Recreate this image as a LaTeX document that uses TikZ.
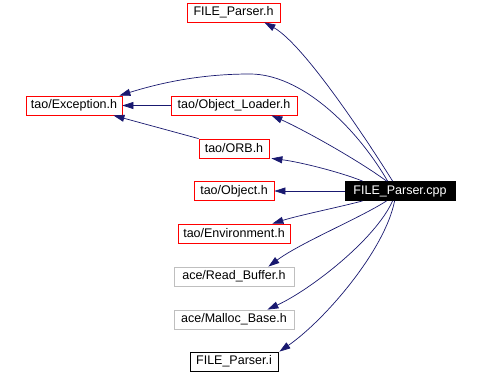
\documentclass[tikz,border=0pt]{standalone}
\usepackage{fontspec}
\setmainfont{Liberation Sans}
\usetikzlibrary{arrows.meta,calc}
\definecolor{edgeblue}{RGB}{25,25,112}
\definecolor{boxred}{RGB}{255,0,0}
\definecolor{boxgray}{RGB}{191,191,191}
\begin{document}
\begin{tikzpicture}[x=1pt,y=-1pt,
  filebox/.style={draw,rectangle,inner sep=0pt,minimum height=19pt,line width=0.8pt,
    font=\fontsize{12.5}{14}\selectfont},
  redbox/.style={filebox,draw=boxred},
  graybox/.style={filebox,draw=boxgray},
  plainbox/.style={filebox,draw=black},
  mainbox/.style={filebox,draw=black,fill=black,text=white},
  dep/.style={draw=edgeblue,line width=0.7pt,
    -{Triangle[length=11pt,width=7pt,fill=edgeblue]}}]
\useasboundingbox (0,0) rectangle (478,374);
\fill[white] (0,0) rectangle (478,374);

% header and source nodes
\node[redbox,minimum width=93pt]   (fph)  at (233.5,12.5) {FILE\_Parser.h};
\node[redbox,minimum width=96pt]   (exc)  at (74,105.5)   {tao/Exception.h};
\node[redbox,minimum width=126pt]  (ldr)  at (234,105.5)  {tao/Object\_Loader.h};
\node[redbox,minimum width=70pt]   (orb)  at (234,148.5)  {tao/ORB.h};
\node[redbox,minimum width=80pt]   (obj)  at (234,191)    {tao/Object.h};
\node[mainbox,minimum width=110pt] (cpp)  at (400,191)    {FILE\_Parser.cpp};
\node[redbox,minimum width=112pt]  (env)  at (234,233.5)  {tao/Environment.h};
\node[graybox,minimum width=120pt] (rbuf) at (234,276.5)  {ace/Read\_Buffer.h};
\node[graybox,minimum width=120pt] (mal)  at (234,319.5)  {ace/Malloc\_Base.h};
\node[plainbox,minimum width=88pt] (fpi)  at (234,361.5)  {FILE\_Parser.i};

% include dependencies
\draw[dep] ($(cpp.north west)+(48,0)$) .. controls (372,148) and (305,45) .. ($(fph.south east)+(-16,0)$);
\draw[dep] ($(cpp.north west)+(43,0)$) .. controls (355,125) and (300,74) .. (250,74)
            .. controls (200,74) and (160,83) .. ($(exc.north east)+(-3,0)$);
\draw[dep] ($(cpp.north west)+(42,0)$) .. controls (355,158) and (300,128) .. ($(ldr.south east)+(-26,0)$);
\draw[dep] ($(cpp.north west)+(18,0)$) .. controls (340,172) and (300,162) .. ($(orb.south east)+(2,0)$);
\draw[dep] (cpp.west) -- (obj.east);
\draw[dep] ($(cpp.south west)+(18,0)$) .. controls (340,207) and (300,215) .. ($(env.north east)+(-18,0)$);
\draw[dep] ($(cpp.south west)+(42,0)$) .. controls (360,218) and (300,243) .. ($(rbuf.north east)+(-26,0)$);
\draw[dep] ($(cpp.south west)+(48,0)$) .. controls (375,240) and (310,290) .. ($(mal.north east)+(-27,0)$);
\draw[dep] ($(cpp.south west)+(50,0)$) .. controls (385,250) and (325,320) .. ($(fpi.north east)+(1,0)$);
\draw[dep] (ldr.west) -- (exc.east);
\draw[dep] (orb.north west) -- ($(exc.south east)+(-9,0)$);
\end{tikzpicture}
\end{document}
